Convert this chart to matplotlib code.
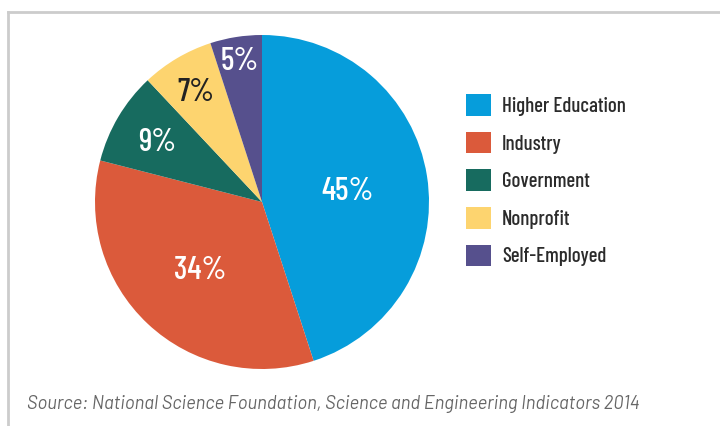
import matplotlib.pyplot as plt
import numpy as np
from matplotlib.patches import Patch
from matplotlib.lines import Line2D

plt.rcParams['font.family'] = ['Barlow Condensed', 'DejaVu Sans']

sectors = ['Higher Education', 'Industry', 'Government', 'Nonprofit', 'Self-Employed']
shares = [45, 34, 9, 7, 5]
colors = ['#069DDB', '#DB5A3B', '#176B5F', '#FDD46F', '#56508D']
label_colors = ['white', 'white', 'white', '#222222', 'white']
label_radius = [0.52, 0.54, 0.73, 0.78, 0.87]
source = 'Source: National Science Foundation, Science and Engineering Indicators 2014'

W, H = 720, 426
fig = plt.figure(figsize=(W / 100, H / 100), dpi=100)

# pie centre (262, 202) px, radius 167 px
cx, cy, r = 262, 202, 167
ax = fig.add_axes([(cx - r) / W, (H - cy - r) / H, 2 * r / W, 2 * r / H])
wedges, _ = ax.pie(shares, colors=colors, startangle=90, counterclock=False,
                   radius=1, wedgeprops=dict(linewidth=0))
ax.set_xlim(-1, 1)
ax.set_ylim(-1, 1)
ax.set_aspect('equal')
ax.axis('off')

for w, v, c, rad in zip(wedges, shares, label_colors, label_radius):
    mid = np.deg2rad((w.theta1 + w.theta2) / 2)
    ax.text(rad * np.cos(mid), rad * np.sin(mid), f'{v}%', color=c,
            fontsize=23, fontweight='medium', ha='center', va='center_baseline')

handles = [Patch(facecolor=c, edgecolor='none') for c in colors]
fig.legend(handles, sectors, loc='upper left', bbox_to_anchor=(466 / W, 1 - 94 / H),
           frameon=False, prop=dict(size=15, weight='medium'),
           handlelength=1.22, handleheight=1.22,
           labelspacing=0.76, handletextpad=0.5, borderpad=0, borderaxespad=0,
           labelcolor='#2b2b2b')

# frame lines
fig.add_artist(Line2D([8 / W, 1], [1 - 12 / H, 1 - 12 / H], color='#cccccc', lw=2,
                      transform=fig.transFigure))
fig.add_artist(Line2D([8 / W, 8 / W], [0, 1 - 12 / H], color='#cccccc', lw=2,
                      transform=fig.transFigure))

fig.text(27 / W, 1 - 404 / H, source, fontsize=13.3, style='italic', weight='normal',
         family=['Barlow', 'DejaVu Sans'], color='#666666', va='center', ha='left')

fig.savefig('out.png', dpi=100)
